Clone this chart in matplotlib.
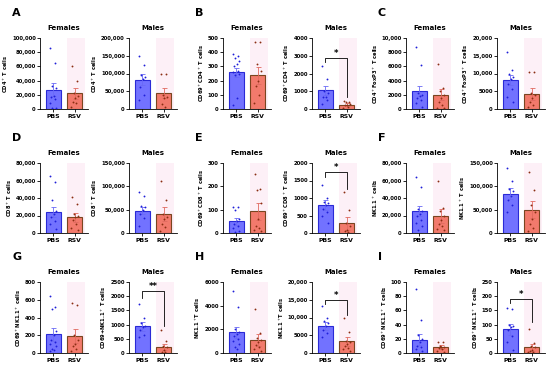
import matplotlib
matplotlib.use("Agg")
import matplotlib.pyplot as plt
from matplotlib.ticker import FuncFormatter, MultipleLocator

# ---- data (female / male, PBS / RSV) ----
groups = ["PBS", "RSV"]

# A: CD4+ T cells
a_f_pbs = [86000, 65000, 33000, 30000, 18000, 17000, 14000, 8000, 2000, 1000]
a_f_rsv = [61000, 39000, 22000, 18000, 16000, 10000, 8000, 3000]
a_m_pbs = [148000, 124000, 95000, 90000, 85000, 62000, 40000, 25000]
a_m_rsv = [100000, 100000, 40000, 35000, 30000, 15000, 5000]
a_mean = [27000, 22000, 83000, 45000]
a_sem = [9000, 8000, 15000, 15000]

# B: CD69+CD4+ T cells
b_f_pbs = [390, 375, 360, 340, 320, 300, 270, 260, 250, 240, 80, 30]
b_f_rsv = [470, 470, 320, 270, 200, 160, 100, 40]
b_m_pbs = [2450, 1700, 1000, 900, 700, 650, 500, 300]
b_m_rsv = [450, 420, 380, 300, 250, 200, 100, 50]
b_mean = [258, 238, 1050, 250]
b_sem = [32, 60, 250, 80]

# C: CD4+FoxP3+ T cells
c_f_pbs = [8800, 6200, 2200, 2000, 1800, 1500, 1200, 800, 300]
c_f_rsv = [6400, 2900, 2600, 2000, 1500, 1000, 500, 200, 100]
c_m_pbs = [16000, 11000, 10000, 9000, 8500, 7000, 5500, 3500, 2000]
c_m_rsv = [10500, 10500, 4500, 4000, 3000, 2000, 1000, 500]
c_mean = [2500, 2000, 8200, 4300]
c_sem = [700, 800, 1500, 1700]

# D: CD8+ T cells
d_f_pbs = [65000, 58000, 38000, 25000, 22000, 18000, 14000, 10000, 5000]
d_f_rsv = [41000, 33000, 22000, 20000, 18000, 15000, 10000, 6000, 3000]
d_m_pbs = [88000, 80000, 57000, 55000, 50000, 40000, 32000, 15000]
d_m_rsv = [112000, 70000, 40000, 35000, 30000, 20000, 12000, 5000]
d_mean = [24000, 18000, 48000, 40000]
d_sem = [6000, 5000, 7000, 15000]

# E: CD69+CD8+ T cells
e_f_pbs = [112, 110, 100, 60, 50, 40, 30, 20, 10, 5]
e_f_rsv = [255, 190, 185, 130, 60, 30, 20, 15, 10]
e_m_pbs = [1370, 1000, 900, 850, 800, 700, 600, 500, 300]
e_m_rsv = [1170, 650, 300, 200, 100, 50, 20]
e_mean = [50, 93, 800, 280]
e_sem = [15, 37, 130, 180]

# F: NK1.1+ cells
f_f_pbs = [64000, 53000, 27000, 25000, 22000, 20000, 15000, 12000, 8000, 4000]
f_f_rsv = [60000, 29000, 25000, 20000, 15000, 10000, 8000, 5000, 3000]
f_m_pbs = [140000, 112000, 95000, 90000, 80000, 70000, 60000, 45000]
f_m_rsv = [130000, 93000, 60000, 45000, 30000, 20000, 10000, 5000]
f_mean = [25000, 20000, 84000, 50000]
f_sem = [6000, 8000, 12000, 18000]

# G: CD69+NK1.1+ cells
g_f_pbs = [640, 520, 500, 250, 200, 150, 120, 100, 80, 50, 30, 20]
g_f_rsv = [560, 540, 200, 150, 100, 80, 50, 20]
g_m_pbs = [1720, 1250, 1050, 950, 900, 800, 650, 550]
g_m_rsv = [800, 420, 250, 200, 100, 50, 30]
g_mean = [210, 195, 940, 210]
g_sem = [75, 80, 160, 120]

# H: NK1.1+ T cells
h_f_pbs = [5200, 3900, 2000, 1800, 1600, 1400, 1200, 1000, 800, 500, 300]
h_f_rsv = [3700, 1700, 1300, 1100, 900, 700, 500, 300, 200]
h_m_pbs = [13200, 9800, 9000, 8500, 7500, 6500, 5500, 4500]
h_m_rsv = [10000, 6000, 3500, 3000, 2500, 2000, 1500, 1000, 500]
h_mean = [1750, 1100, 7600, 3300]
h_sem = [450, 500, 1100, 1200]

# I: CD69+NK1.1+ T cells
i_f_pbs = [90, 47, 25, 20, 15, 10, 8, 5, 3]
i_f_rsv = [15, 15, 10, 9, 8, 7, 5, 3, 2]
i_m_pbs = [160, 155, 100, 95, 90, 80, 60, 40, 10]
i_m_rsv = [85, 35, 25, 20, 10, 8, 5, 3]
i_mean = [19, 8, 83, 20]
i_sem = [8, 3, 20, 13]

letters = ["A", "B", "C", "D", "E", "F", "G", "H", "I"]
ylabels_f = ["CD4$^+$ T cells", "CD69$^+$CD4$^+$ T cells", "CD4$^+$FoxP3$^+$ T cells",
             "CD8$^+$ T cells", "CD69$^+$CD8$^+$ T cells", "NK1.1$^+$ cells",
             "CD69$^+$NK1.1$^+$ cells", "NK1.1$^+$T cells", "CD69$^+$NK1.1$^+$ T cells"]
ylabels_m = ["CD4$^+$ T cells", "CD69$^+$CD4$^+$ T cells", "CD4$^+$FoxP3$^+$ T cells",
             "CD8$^+$ T cells", "CD69$^+$CD8$^+$ T cells", "NK1.1$^+$ T cells",
             "CD69+NK1.1$^+$ T cells", "NK1.1$^+$T cells", "CD69$^+$NK1.1$^+$ T cells"]
ymax_f = [100000, 500, 10000, 80000, 300, 80000, 800, 6000, 100]
step_f = [20000, 100, 2000, 20000, 100, 20000, 200, 2000, 20]
ymax_m = [200000, 4000, 20000, 150000, 2000, 150000, 2500, 20000, 250]
step_m = [50000, 1000, 5000, 50000, 500, 50000, 500, 5000, 50]

# significance brackets on the male plots: panel, line y, left leg, right leg, label
sig_panel = ["B", "E", "G", "H", "I"]
sig_line = [2900, 1750, 2200, 15000, 190]
sig_left = [2650, 1600, 1950, 13800, 175]
sig_right = [700, 1250, 950, 10800, 110]
sig_text = ["*", "*", "**", "*", "*"]

points = [(a_f_pbs, a_f_rsv, a_m_pbs, a_m_rsv), (b_f_pbs, b_f_rsv, b_m_pbs, b_m_rsv),
          (c_f_pbs, c_f_rsv, c_m_pbs, c_m_rsv), (d_f_pbs, d_f_rsv, d_m_pbs, d_m_rsv),
          (e_f_pbs, e_f_rsv, e_m_pbs, e_m_rsv), (f_f_pbs, f_f_rsv, f_m_pbs, f_m_rsv),
          (g_f_pbs, g_f_rsv, g_m_pbs, g_m_rsv), (h_f_pbs, h_f_rsv, h_m_pbs, h_m_rsv),
          (i_f_pbs, i_f_rsv, i_m_pbs, i_m_rsv)]
means = [a_mean, b_mean, c_mean, d_mean, e_mean, f_mean, g_mean, h_mean, i_mean]
sems = [a_sem, b_sem, c_sem, d_sem, e_sem, f_sem, g_sem, h_sem, i_sem]

# ---- style ----
bar_fill = ["#7272ff", "#f27a6c"]
bar_edge = ["#2a2ad6", "#7a4520"]
dot_col = ["#1f1fd8", "#8a2e12"]
err_col = ["#6a6af5", "#e06a60"]
jitter = [-0.14, 0.1, -0.04, 0.15, 0.02, -0.1, 0.07, -0.16, 0.12, -0.06, 0.05, -0.12]

W, H = 550, 367
fig = plt.figure(figsize=(5.5, 3.67), dpi=100)

col_left = [40, 223, 406]
col_right = [129, 312, 497]
row_top = [38, 163, 282]
row_bot = [109, 233, 353]
ax_w = 48


def fmt(v, _):
    v = int(round(v))
    return f"{v:,}" if v >= 10000 else f"{v}"


def draw(ax, pts, mean, sem, ymax, step, ylabel, title):
    ax.axvspan(0.62, 1.45, color="#fde6f2", alpha=0.6, lw=0, zorder=0)
    for k in range(2):
        ax.bar(k, mean[k], width=0.68, color=bar_fill[k], edgecolor=bar_edge[k],
               linewidth=0.8, zorder=2)
        ax.errorbar(k, mean[k], yerr=sem[k], color=err_col[k], lw=0.6,
                    capsize=1.8, capthick=0.6, zorder=3)
        xs = [k + jitter[j % len(jitter)] for j in range(len(pts[k]))]
        ax.scatter(xs, pts[k], s=1.8, color=dot_col[k], zorder=4, lw=0)
    ax.set_xlim(-0.6, 1.6)
    ax.set_ylim(0, ymax)
    ax.yaxis.set_major_locator(MultipleLocator(step))
    ax.yaxis.set_major_formatter(FuncFormatter(fmt))
    ax.set_xticks([0, 1])
    ax.set_xticklabels(groups, fontsize=4.4, fontweight="bold")
    ax.tick_params(axis="y", labelsize=3.8, length=2, width=0.6, pad=1)
    ax.tick_params(axis="x", length=2, width=0.6, pad=1.5)
    for lab in ax.get_yticklabels():
        lab.set_fontweight("bold")
    for s in ["top", "right"]:
        ax.spines[s].set_visible(False)
    ax.spines["left"].set_linewidth(0.6)
    ax.spines["bottom"].set_linewidth(0.6)
    ax.set_ylabel(ylabel, fontsize=3.7, fontweight="bold", labelpad=1.5)
    ax.set_title(title, fontsize=5, fontweight="bold", pad=6)
    ax.set_facecolor("none")


for p in range(9):
    r, c = divmod(p, 3)
    bottom = (H - row_bot[r]) / H
    height = (row_bot[r] - row_top[r]) / H
    axf = fig.add_axes([col_left[c] / W, bottom, ax_w / W, height])
    axm = fig.add_axes([col_right[c] / W, bottom, ax_w / W, height])
    fp, fr, mp, mr = points[p]
    draw(axf, (fp, fr), means[p][:2], sems[p][:2], ymax_f[p], step_f[p],
         ylabels_f[p], "Females")
    draw(axm, (mp, mr), means[p][2:], sems[p][2:], ymax_m[p], step_m[p],
         ylabels_m[p], "Males")
    if letters[p] in sig_panel:
        k = sig_panel.index(letters[p])
        axm.plot([0, 0, 1, 1], [sig_left[k], sig_line[k], sig_line[k], sig_right[k]],
                 color="black", lw=0.6, zorder=5)
        axm.text(0.5, sig_line[k], sig_text[k], ha="center", va="bottom",
                 fontsize=6, fontweight="bold")
    fig.text((col_left[c] - 28) / W, (H - row_top[r] + 25) / H, letters[p],
             fontsize=8, fontweight="bold", va="center")

fig.savefig("out.png", dpi=100, facecolor="white")
